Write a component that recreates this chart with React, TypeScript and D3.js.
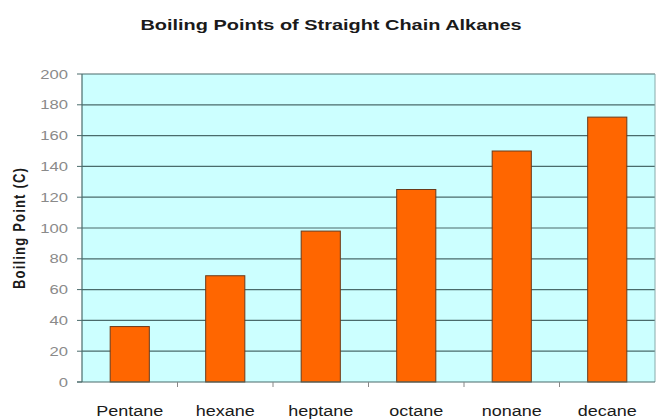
import React, { useEffect, useRef } from 'react';
import * as d3 from 'd3';

const categories = ['Pentane', 'hexane', 'heptane', 'octane', 'nonane', 'decane'];
const boilingPoints = [36, 69, 98, 125, 150, 172];
const yTicks = [0, 20, 40, 60, 80, 100, 120, 140, 160, 180, 200];

const WIDTH = 657;
const HEIGHT = 419;
const FONT = 'Arial, "Liberation Sans", sans-serif';

const App = () => {
  const svgRef = useRef<SVGSVGElement>(null);

  useEffect(() => {
    const svg = d3.select(svgRef.current);
    svg.selectAll('*').remove();

    const margin = { top: 74, right: 2, bottom: 37, left: 82 };
    const innerWidth = WIDTH - margin.left - margin.right;
    const innerHeight = HEIGHT - margin.top - margin.bottom;

    svg.append('rect').attr('width', WIDTH).attr('height', HEIGHT).attr('fill', '#ffffff');

    // title (source image is stretched sideways, so text gets a horizontal scale)
    svg.append('text')
      .attr('transform', 'translate(331,30) scale(1.33,1)')
      .attr('text-anchor', 'middle')
      .attr('fill', '#1a1a1a')
      .style('font-family', FONT)
      .style('font-size', '15px')
      .style('font-weight', 'bold')
      .text('Boiling Points of Straight Chain Alkanes');

    const g = svg.append('g').attr('transform', `translate(${margin.left},${margin.top})`);

    const x = d3.scaleBand().domain(categories).range([0, innerWidth]).paddingInner(0.59).paddingOuter(0.295);
    const xBand = d3.scaleBand().domain(categories).range([0, innerWidth]);
    const y = d3.scaleLinear().domain([0, 200]).range([innerHeight, 0]);

    // plot background
    g.append('rect')
      .attr('width', innerWidth)
      .attr('height', innerHeight)
      .attr('fill', '#ccffff');

    // grid lines
    g.selectAll('line.grid')
      .data(yTicks.slice(1))
      .enter()
      .append('line')
      .attr('x1', 0)
      .attr('x2', innerWidth)
      .attr('y1', d => y(d))
      .attr('y2', d => y(d))
      .attr('stroke', '#4a6b6b')
      .attr('stroke-width', 1.2);

    // right border
    g.append('line')
      .attr('x1', innerWidth).attr('x2', innerWidth)
      .attr('y1', 0).attr('y2', innerHeight)
      .attr('stroke', '#8aa')
      .attr('stroke-width', 1);

    // bars
    g.selectAll('rect.bar')
      .data(boilingPoints)
      .enter()
      .append('rect')
      .attr('class', 'bar')
      .attr('x', (d, i) => x(categories[i]) as number)
      .attr('y', d => y(d))
      .attr('width', x.bandwidth())
      .attr('height', d => innerHeight - y(d))
      .attr('fill', '#ff6600')
      .attr('stroke', '#6b3a1a')
      .attr('stroke-width', 1);

    // y axis
    g.append('line')
      .attr('x1', 0).attr('x2', 0)
      .attr('y1', 0).attr('y2', innerHeight)
      .attr('stroke', '#4a6b6b')
      .attr('stroke-width', 1.2);

    yTicks.forEach(t => {
      g.append('line')
        .attr('x1', -5).attr('x2', 0)
        .attr('y1', y(t)).attr('y2', y(t))
        .attr('stroke', '#4a6b6b');
      g.append('text')
        .attr('transform', `translate(-14,${y(t)}) scale(1.28,1)`)
        .attr('dy', '0.35em')
        .attr('text-anchor', 'end')
        .attr('fill', '#8a8a8a')
        .style('font-family', FONT)
        .style('font-size', '13px')
        .text(t);
    });

    // x axis
    g.append('line')
      .attr('x1', -5).attr('x2', innerWidth)
      .attr('y1', innerHeight).attr('y2', innerHeight)
      .attr('stroke', '#4a6b6b')
      .attr('stroke-width', 1.2);

    categories.forEach((c, i) => {
      const bx = xBand(c) as number;
      if (i > 0) {
        g.append('line')
          .attr('x1', bx).attr('x2', bx)
          .attr('y1', innerHeight).attr('y2', innerHeight + 5)
          .attr('stroke', '#888');
      }
      g.append('text')
        .attr('transform', `translate(${bx + xBand.bandwidth() / 2},${innerHeight + 34}) scale(1.2,1)`)
        .attr('text-anchor', 'middle')
        .attr('fill', '#1a1a1a')
        .style('font-family', FONT)
        .style('font-size', '15px')
        .text(c);
    });

    // y axis label
    svg.append('text')
      .attr('transform', `translate(25,${margin.top + innerHeight / 2}) rotate(-90) scale(1,1.25)`)
      .attr('text-anchor', 'middle')
      .attr('fill', '#1a1a1a')
      .style('font-family', FONT)
      .style('font-size', '13px')
      .style('font-weight', 'bold')
      .style('letter-spacing', '1.2px')
      .text('Boiling Point (C)');
  }, []);

  return (
    <div style={{ position: 'fixed', top: 0, left: 0, width: WIDTH, height: HEIGHT }}>
      <svg ref={svgRef} width={WIDTH} height={HEIGHT} style={{ display: 'block' }} />
    </div>
  );
};

export default App;
